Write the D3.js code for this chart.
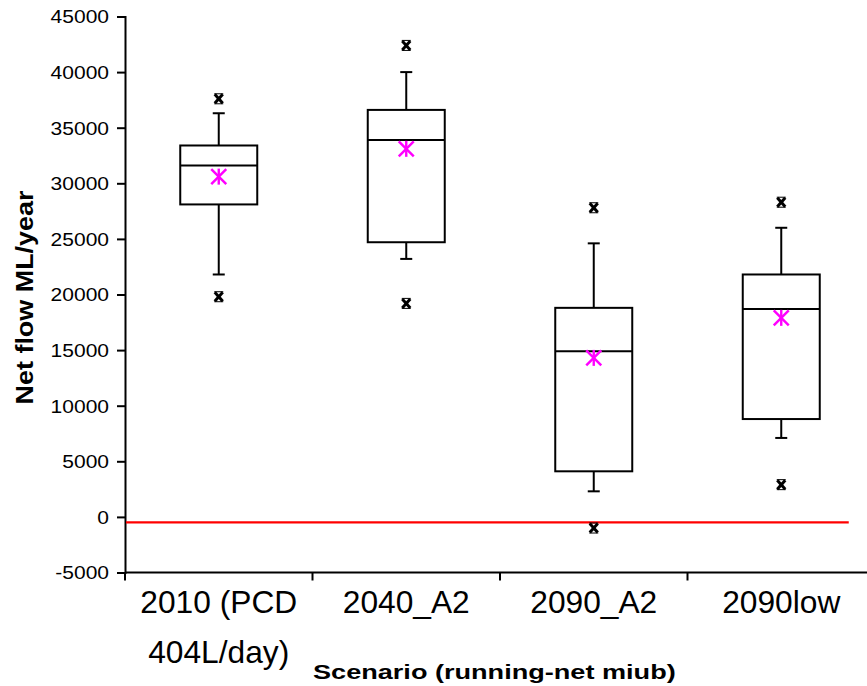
<!DOCTYPE html>
<html>
<head>
<meta charset="utf-8">
<script src="https://cdn.jsdelivr.net/npm/d3@7"></script>
<style>
  html, body { margin: 0; padding: 0; background: #fff; }
  svg { display: block; font-family: "Liberation Sans", Arial, sans-serif; }
</style>
</head>
<body>
<svg id="chart" width="867" height="686"></svg>
<script>
// Scenarios along the x axis (label lines)
const scenarios = ["2010 (PCD 404L/day)", "2040_A2", "2090_A2", "2090low"];
const scenarioLines = [["2010 (PCD", "404L/day)"], ["2040_A2"], ["2090_A2"], ["2090low"]];

// Box statistics per scenario (ML/year)
const whiskerLow = [21800, 23200, 2300, 7100];
const q1 = [28100, 24700, 4100, 8800];
const median = [31600, 33900, 14900, 18700];
const q3 = [33400, 36600, 18800, 21800];
const whiskerHigh = [36300, 40000, 24600, 26000];
const meanValue = [30600, 33100, 14300, 17900];
const outlierLow = [19800, 19200, -1000, 2900];
const outlierHigh = [37600, 42400, 27800, 28300];

// Reference level drawn in red
const referenceLevel = -500;

// Y axis ticks
const yTicks = [-5000, 0, 5000, 10000, 15000, 20000, 25000, 30000, 35000, 40000, 45000];

const svg = d3.select("#chart");

const plotLeft = 125, plotRight = 875, plotTop = 16.5, plotBottom = 572.5;

const x = d3.scaleBand().domain(scenarios).range([plotLeft, plotRight]).padding(0);
const y = d3.scaleLinear().domain([-5000, 45000]).range([plotBottom, plotTop]);

const boxW = 77, capW = 12;

// Widen text horizontally to a given ratio of its natural width
function stretch(sel, ratio) {
  sel.each(function () {
    const w = this.getComputedTextLength();
    d3.select(this).attr("textLength", w * ratio).attr("lengthAdjust", "spacingAndGlyphs");
  });
}

// Y axis
const yAxis = svg.append("g")
  .attr("transform", `translate(${plotLeft},0)`)
  .call(d3.axisLeft(y).tickValues(yTicks).tickFormat(d => String(d)).tickSize(8).tickPadding(8));
yAxis.select(".domain").attr("stroke", "#000").attr("stroke-width", 2);
yAxis.selectAll(".tick line").attr("stroke", "#000").attr("stroke-width", 2);
yAxis.selectAll(".tick text")
  .attr("fill", "#000")
  .style("font-size", "17.5px")
  .attr("dy", "0.36em")
  .call(stretch, 1.2);

// X axis: baseline with ticks at category boundaries
const xg = svg.append("g");
xg.append("line")
  .attr("x1", plotLeft).attr("x2", plotRight)
  .attr("y1", y(-5000)).attr("y2", y(-5000))
  .attr("stroke", "#000").attr("stroke-width", 2);
xg.selectAll("line.tick")
  .data(scenarios)
  .join("line")
  .attr("class", "tick")
  .attr("x1", d => x(d)).attr("x2", d => x(d))
  .attr("y1", y(-5000)).attr("y2", y(-5000) + 8)
  .attr("stroke", "#000").attr("stroke-width", 2);

// Category labels
scenarios.forEach((s, i) => {
  const t = svg.append("text")
    .attr("x", x(s) + x.bandwidth() / 2)
    .attr("y", 613)
    .attr("text-anchor", "middle")
    .style("font-size", "30.5px")
    .attr("fill", "#000");
  scenarioLines[i].forEach((ln, j) => {
    t.append("tspan")
      .attr("x", x(s) + x.bandwidth() / 2)
      .attr("dy", j === 0 ? 0 : 50)
      .text(ln);
  });
  t.selectAll("tspan").call(stretch, 1.04);
});

// Axis titles
svg.append("text")
  .attr("transform", `translate(33,297.5) rotate(-90)`)
  .attr("text-anchor", "middle")
  .style("font-size", "23px")
  .style("font-weight", "bold")
  .text("Net flow ML/year")
  .call(stretch, 1.17);

svg.append("text")
  .attr("x", 313)
  .attr("y", 679)
  .style("font-size", "21px")
  .style("font-weight", "bold")
  .text("Scenario (running-net miub)")
  .call(stretch, 1.29);

// Reference line
svg.append("line")
  .attr("x1", plotLeft + 1).attr("x2", x(scenarios[3]) + x.bandwidth() * 0.86)
  .attr("y1", y(referenceLevel)).attr("y2", y(referenceLevel))
  .attr("stroke", "#ff0000").attr("stroke-width", 2.2);

// Box plots
const boxes = svg.append("g");
scenarios.forEach((s, i) => {
  const cx = x(s) + x.bandwidth() / 2;
  const g = boxes.append("g").attr("stroke", "#000").attr("stroke-width", 2).attr("fill", "none");
  // whiskers
  g.append("line").attr("x1", cx).attr("x2", cx).attr("y1", y(q3[i])).attr("y2", y(whiskerHigh[i]));
  g.append("line").attr("x1", cx).attr("x2", cx).attr("y1", y(q1[i])).attr("y2", y(whiskerLow[i]));
  g.append("line").attr("x1", cx - capW / 2).attr("x2", cx + capW / 2).attr("y1", y(whiskerHigh[i])).attr("y2", y(whiskerHigh[i]));
  g.append("line").attr("x1", cx - capW / 2).attr("x2", cx + capW / 2).attr("y1", y(whiskerLow[i])).attr("y2", y(whiskerLow[i]));
  // box
  g.append("rect")
    .attr("x", cx - boxW / 2).attr("width", boxW)
    .attr("y", y(q3[i])).attr("height", y(q1[i]) - y(q3[i]))
    .attr("fill", "#fff");
  g.append("line").attr("x1", cx - boxW / 2).attr("x2", cx + boxW / 2).attr("y1", y(median[i])).attr("y2", y(median[i]));

  // outliers: small bold black crosses
  [outlierLow[i], outlierHigh[i]].forEach(v => {
    const py = y(v);
    const o = boxes.append("g").attr("stroke", "#000").attr("stroke-width", 3);
    o.append("line").attr("x1", cx - 4).attr("x2", cx + 4).attr("y1", py - 4.5).attr("y2", py + 4.5);
    o.append("line").attr("x1", cx - 4).attr("x2", cx + 4).attr("y1", py + 4.5).attr("y2", py - 4.5);
    o.append("line").attr("x1", cx - 4.5).attr("x2", cx + 4.5).attr("y1", py - 5).attr("y2", py - 5).attr("stroke-width", 1);
    o.append("line").attr("x1", cx - 4.5).attr("x2", cx + 4.5).attr("y1", py + 5).attr("y2", py + 5).attr("stroke-width", 1);
  });

  // mean: magenta asterisk
  const my = y(meanValue[i]);
  const m = boxes.append("g").attr("stroke", "#ff00ff").attr("stroke-width", 2.4);
  m.append("line").attr("x1", cx - 7.5).attr("x2", cx + 7.5).attr("y1", my - 7.5).attr("y2", my + 7.5);
  m.append("line").attr("x1", cx - 7.5).attr("x2", cx + 7.5).attr("y1", my + 7.5).attr("y2", my - 7.5);
  m.append("line").attr("x1", cx).attr("x2", cx).attr("y1", my - 8).attr("y2", my + 8);
});
</script>
</body>
</html>
